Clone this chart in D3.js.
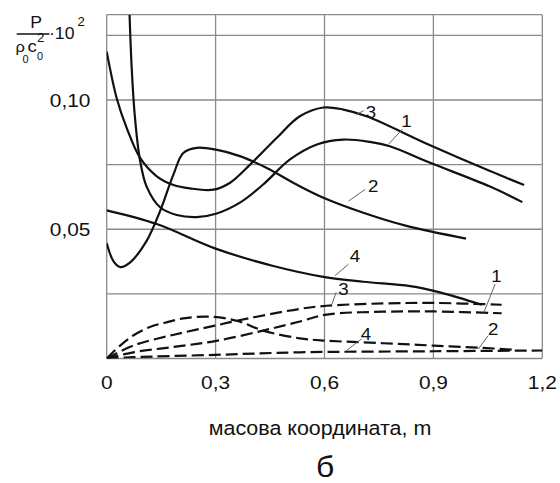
<!DOCTYPE html>
<html>
<head>
<meta charset="utf-8">
<script src="https://cdn.jsdelivr.net/npm/d3@7"></script>
<style>
  body { margin: 0; background: #fff; }
  text { font-family: "Liberation Sans", Arial, sans-serif; fill: #111; }
</style>
</head>
<body>
<div id="chart"></div>
<script>
// data: mass coordinate m vs P/(rho0 c0^2)*10^2

let xTicks = [0, 0.3, 0.6, 0.9, 1.2];
let xTickLabels = ["0", "0,3", "0,6", "0,9", "1,2"];
let yGrid = [0, 0.025, 0.05, 0.075, 0.1, 0.125];
let yTicks = [0.05, 0.1];
let yTickLabels = ["0,05", "0,10"];

// solid curves
let solid1 = [[0.063,0.133],[0.069,0.112],[0.078,0.093],[0.092,0.0765],[0.110,0.0665],[0.147,0.0585],
  [0.193,0.0555],[0.248,0.0547],[0.301,0.056],[0.367,0.0603],[0.431,0.0673],[0.505,0.077],
  [0.579,0.0828],[0.652,0.0847],[0.725,0.0838],[0.78,0.0821],[0.891,0.0757],[1.056,0.0665],[1.145,0.0605]];
let solid2 = [[0,0.0447],[0.018,0.0378],[0.037,0.0354],[0.064,0.0371],[0.110,0.0455],[0.147,0.057],
  [0.184,0.0712],[0.211,0.0795],[0.248,0.0815],[0.301,0.0808],[0.367,0.0783],[0.441,0.0737],
  [0.523,0.0673],[0.597,0.0622],[0.707,0.0564],[0.826,0.0513],[0.99,0.0464]];
let solid3 = [[0,0.1187],[0.0275,0.1007],[0.055,0.0892],[0.092,0.0776],[0.138,0.0705],[0.184,0.0671],
  [0.229,0.0658],[0.294,0.0653],[0.34,0.068],[0.395,0.075],[0.468,0.0853],[0.532,0.0937],
  [0.597,0.0971],[0.652,0.0963],[0.716,0.0937],[0.891,0.0825],[1.056,0.0725],[1.15,0.0671]];
let solid4 = [[0,0.0573],[0.138,0.052],[0.30,0.0425],[0.459,0.0358],[0.597,0.0316],[0.707,0.0297],
  [0.836,0.028],[0.918,0.0256],[1.033,0.0208]];

// dashed curves
let dashed1 = [[0,0],[0.073,0.0024],[0.185,0.0045],[0.298,0.0067],[0.431,0.0108],[0.532,0.0143],[0.606,0.017],
  [0.762,0.0181],[0.9,0.0182],[1.088,0.0175]];
let dashed2 = [[0,0],[0.037,0.005],[0.073,0.0089],[0.119,0.0122],[0.165,0.014],[0.211,0.0155],[0.28,0.0162],
  [0.358,0.0146],[0.431,0.0108],[0.532,0.0078],[0.606,0.0069],[0.762,0.0059],[0.9,0.005],[1.037,0.0041],[1.12,0.0034]];
let dashed3 = [[0,0],[0.073,0.005],[0.185,0.0092],[0.298,0.0127],[0.358,0.0146],[0.532,0.0192],[0.606,0.0204],
  [0.762,0.0213],[0.9,0.0215],[1.088,0.0208]];
let dashed4 = [[0,0],[0.073,0.0005],[0.298,0.0014],[0.532,0.0024],[0.9,0.0028],[1.2,0.0031]];

// curve number labels: text, leader start (on curve), leader end, label centre
let curveLabels = [
  ["3", [0.688,0.0944], [0.708,0.0959], [0.728,0.0953]],
  ["1", [0.776,0.0828], [0.815,0.0888], [0.826,0.0917]],
  ["2", [0.666,0.0609], [0.712,0.0654], [0.734,0.0667]],
  ["4", [0.629,0.032],  [0.666,0.0365], [0.684,0.0397]],
  ["3", [0.62,0.0208],  [0.632,0.0256], [0.652,0.0269]],
  ["1", [1.039,0.0178], [1.07,0.0288],  [1.074,0.032]],
  ["2", [1.024,0.0037], [1.051,0.0089], [1.065,0.0114]],
  ["4", [0.661,0.0031], [0.702,0.0076], [0.714,0.0095]]
];

let xTitle = "масова координата, m";
let subTitle = "б";

////////////////////////////////////////////////////////////////////////

let width = 560, height = 483;
let stretch = 1.1;   // the scanned lettering is a little wider than the font
let x = d3.scaleLinear().domain([0, 1.2]).range([106.7, 542.3]);
let y = d3.scaleLinear().domain([0, 0.133]).range([358.5, 14.7]);

let svg = d3.select("#chart").append("svg")
  .attr("width", width)
  .attr("height", height);

function addText(g, px, py, str, size, anchor) {
  return g.append("text")
    .attr("transform", "translate(" + px + "," + py + ") scale(" + stretch + ",1)")
    .attr("text-anchor", anchor || "start")
    .attr("font-size", size)
    .text(str);
}

svg.append("defs").append("clipPath").attr("id", "plot")
  .append("rect")
  .attr("x", x(0)).attr("y", y(0.133))
  .attr("width", x(1.2) - x(0)).attr("height", y(0) - y(0.133));

// grid + frame
let grid = svg.append("g").attr("stroke", "#8a8a8a").attr("stroke-width", 1.3);
grid.selectAll("line.v").data(xTicks).enter().append("line")
  .attr("x1", d => x(d)).attr("x2", d => x(d))
  .attr("y1", y(0)).attr("y2", y(0.133));
grid.selectAll("line.h").data(yGrid.concat([0.133])).enter().append("line")
  .attr("x1", x(0)).attr("x2", x(1.2))
  .attr("y1", d => y(d)).attr("y2", d => y(d));

// tick labels
xTicks.forEach((d, i) => addText(svg, x(d), 389, xTickLabels[i], 19, "middle"));
yTicks.forEach((d, i) => addText(svg, 90.5, y(d) + 7, yTickLabels[i], 19, "end"));

// curves
let line = d3.line()
  .x(d => x(d[0]))
  .y(d => y(d[1]))
  .curve(d3.curveCatmullRom.alpha(0.5));

let curves = svg.append("g").attr("clip-path", "url(#plot)")
  .attr("fill", "none").attr("stroke", "#111").attr("stroke-width", 2.2);

curves.selectAll("path.solid").data([solid1, solid2, solid3, solid4]).enter().append("path")
  .attr("d", line);
curves.selectAll("path.dashed").data([dashed1, dashed2, dashed3, dashed4]).enter().append("path")
  .attr("d", line)
  .attr("stroke-dasharray", "12,5");

// leaders and numbers
svg.selectAll("line.leader").data(curveLabels).enter().append("line")
  .attr("x1", d => x(d[1][0])).attr("y1", d => y(d[1][1]))
  .attr("x2", d => x(d[2][0])).attr("y2", d => y(d[2][1]))
  .attr("stroke", "#666").attr("stroke-width", 1);
curveLabels.forEach(d => addText(svg, x(d[3][0]), y(d[3][1]) + 6, d[0], 17, "middle"));

// axis title and panel letter
addText(svg, 320, 435, xTitle, 19.5, "middle");
addText(svg, 325, 477, subTitle, 29, "middle");

// y label:  P / (rho0 c0^2) * 10^2
let yl = svg.append("g");
addText(yl, 36, 27.5, "P", 16, "middle");
yl.append("line")
  .attr("x1", 16.7).attr("x2", 49.3).attr("y1", 34).attr("y2", 34)
  .attr("stroke", "#111").attr("stroke-width", 1.5);
addText(yl, 15.5, 52, "ρ", 15);
addText(yl, 22.5, 63, "0", 10);
addText(yl, 27.5, 52, "c", 17);
addText(yl, 37, 42, "2", 12);
addText(yl, 37, 60, "0", 10);
addText(yl, 49, 38.5, "·10", 16);
addText(yl, 77.5, 25.5, "2", 12);
</script>
</body>
</html>
